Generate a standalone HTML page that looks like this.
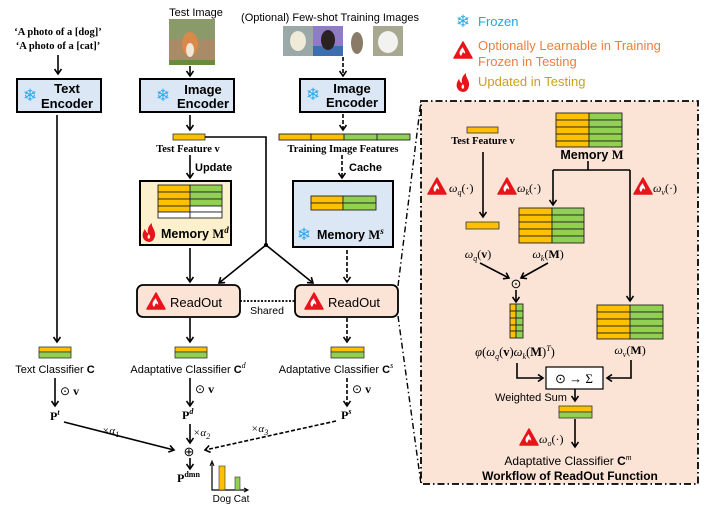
<!DOCTYPE html>
<html><head><meta charset="utf-8"><style>
html,body{margin:0;padding:0;background:#fff;}
svg{display:block;}
text{font-family:"Liberation Sans",sans-serif;fill:#000;}
.s{font-family:"Liberation Serif",serif;}
.b{font-weight:bold;}
</style></head><body>
<svg width="723" height="510" viewBox="0 0 723 510" xmlns="http://www.w3.org/2000/svg">
<defs>
<marker id="a" markerWidth="8" markerHeight="8" refX="6" refY="4" orient="auto" markerUnits="userSpaceOnUse">
<path d="M1,0.5 L6,4 L1,7.5" fill="none" stroke="#000" stroke-width="1.6"/></marker>
<g id="tri"><polygon points="0,-9 9,7 -9,7" fill="#e8141b" stroke="#e8141b" stroke-width="1.5" stroke-linejoin="round"/><path d="M-2,5 C-5,2 -3,-1 0,-4 C0,-1 3,0 2,3 C1,1 0,1 -0.5,2 Z" fill="#fff"/></g>
<g id="fl"><path d="M0,9 C-7,8 -8,1 -4,-4 C-3,-1 -2,0 -1,0 C-2,-4 0,-8 3,-10 C2,-6 7,-3 6,3 C5,7 3,9 0,9 Z M0,6 C-2,5 -2,3 0,1 C1,3 2,4 0,6 Z" fill="#e8141b" fill-rule="evenodd"/></g>
</defs>

<!-- legend -->
<text x="463" y="27" font-size="17" style="fill:#29a8f0" text-anchor="middle">❄</text>
<text x="478" y="26" font-size="13" style="fill:#1ea7e8">Frozen</text>
<use href="#tri" x="463" y="51"/>
<text x="478" y="50" font-size="13" style="fill:#ef7d3c">Optionally Learnable in Training</text>
<text x="478" y="66" font-size="13" style="fill:#ef7d3c">Frozen in Testing</text>
<use href="#fl" x="463" y="83"/>
<text x="478" y="86" font-size="13" style="fill:#c9a01c">Updated in Testing</text>

<!-- text branch -->
<text x="58" y="35" font-size="10.5" class="s b" text-anchor="middle">‘A photo of a [dog]’</text>
<text x="58" y="49" font-size="10.5" class="s b" text-anchor="middle">‘A photo of a [cat]’</text>
<line x1="58" y1="55" x2="58" y2="74" stroke="#000" stroke-width="1.6" marker-end="url(#a)"/>
<rect x="17" y="79" width="84" height="33" fill="#dbe7f4" stroke="#000" stroke-width="2"/>
<text x="30" y="101" font-size="17" style="fill:#29a8f0" text-anchor="middle">❄</text>
<text x="67" y="93" font-size="13" class="b" text-anchor="middle">Text</text>
<text x="67" y="108" font-size="13" class="b" text-anchor="middle">Encoder</text>
<line x1="57" y1="115" x2="57" y2="342" stroke="#000" stroke-width="1.6" marker-end="url(#a)"/>
<rect x="39" y="347" width="32" height="5" fill="#ffc000" stroke="#333" stroke-width="0.8"/>
<rect x="39" y="352" width="32" height="6" fill="#92d050" stroke="#333" stroke-width="0.8"/>
<text x="55" y="373" font-size="11" text-anchor="middle">Text Classifier <tspan class="b">C</tspan></text>
<line x1="55" y1="378" x2="55" y2="406" stroke="#000" stroke-width="1.6" marker-end="url(#a)"/>
<text x="60" y="395" font-size="12" class="s">⊙ <tspan class="b">v</tspan></text>
<text x="50" y="420" font-size="12" class="s b">P<tspan font-size="8" dy="-5" font-style="italic">t</tspan></text>

<!-- test image branch -->
<text x="196" y="16" font-size="11" text-anchor="middle">Test Image</text>
<rect x="169" y="19" width="46" height="46" fill="#a98b68"/>
<rect x="169" y="19" width="46" height="20" fill="#8a9a6a"/>
<ellipse cx="190" cy="44" rx="8" ry="12" fill="#d98a4a"/>
<ellipse cx="190" cy="50" rx="4" ry="7" fill="#f3e6d8"/>
<rect x="169" y="60" width="46" height="5" fill="#6c8a3c"/>
<line x1="190" y1="66" x2="190" y2="76" stroke="#000" stroke-width="1.6" marker-end="url(#a)"/>
<rect x="140" y="79" width="94" height="33" fill="#dbe7f4" stroke="#000" stroke-width="2"/>
<text x="163" y="101" font-size="17" style="fill:#29a8f0" text-anchor="middle">❄</text>
<text x="203" y="94" font-size="13" class="b" text-anchor="middle">Image</text>
<text x="203" y="108" font-size="13" class="b" text-anchor="middle">Encoder</text>
<line x1="190" y1="115" x2="190" y2="130" stroke="#000" stroke-width="1.6" marker-end="url(#a)"/>
<rect x="173" y="134" width="32" height="6" fill="#ffc000" stroke="#333" stroke-width="0.8"/>
<polyline points="205,137 266,137 266,245" fill="none" stroke="#000" stroke-width="1.6"/>
<circle cx="266" cy="245" r="2" fill="#000"/>
<line x1="266" y1="245" x2="219" y2="283" stroke="#000" stroke-width="1.6" marker-end="url(#a)"/>
<line x1="266" y1="245" x2="313" y2="283" stroke="#000" stroke-width="1.6" marker-end="url(#a)"/>
<text x="188" y="152" font-size="10.5" class="s b" text-anchor="middle">Test Feature v</text>
<line x1="190" y1="155" x2="190" y2="178" stroke="#000" stroke-width="1.6" marker-end="url(#a)"/>
<text x="195" y="171" font-size="11" class="b">Update</text>
<rect x="140" y="181" width="91" height="64" fill="#fdf0cc" stroke="#000" stroke-width="2"/>
<g stroke="#222" stroke-width="0.9">
<rect x="158" y="185" width="32" height="7" fill="#ffc000"/><rect x="190" y="185" width="32" height="7" fill="#92d050"/>
<rect x="158" y="192" width="32" height="7" fill="#ffc000"/><rect x="190" y="192" width="32" height="7" fill="#92d050"/>
<rect x="158" y="199" width="32" height="7" fill="#ffc000"/><rect x="190" y="199" width="32" height="7" fill="#92d050"/>
<rect x="158" y="206" width="32" height="6" fill="#ffc000"/><rect x="190" y="206" width="32" height="6" fill="#fff"/>
<rect x="158" y="212" width="32" height="6" fill="#fff"/><rect x="190" y="212" width="32" height="6" fill="#fff"/>
</g>
<use href="#fl" x="149" y="233"/>
<text x="161" y="238" font-size="12.5" class="b">Memory <tspan class="s">M</tspan><tspan class="s" font-style="italic" font-size="9" dy="-5">d</tspan></text>
<line x1="190" y1="248" x2="190" y2="282" stroke="#000" stroke-width="1.6" marker-end="url(#a)"/>
<rect x="137" y="285" width="103" height="32" rx="6" fill="#fbe3d6" stroke="#000" stroke-width="1.8"/>
<use href="#tri" x="156" y="302"/>
<text x="170" y="307" font-size="13">ReadOut</text>
<line x1="240" y1="301" x2="295" y2="301" stroke="#000" stroke-width="1.8" stroke-dasharray="2,1.5"/>
<text x="267" y="314" font-size="10.5" text-anchor="middle">Shared</text>
<line x1="190" y1="318" x2="190" y2="342" stroke="#000" stroke-width="1.6" marker-end="url(#a)"/>
<rect x="175" y="347" width="32" height="5" fill="#ffc000" stroke="#333" stroke-width="0.8"/>
<rect x="175" y="352" width="32" height="6" fill="#92d050" stroke="#333" stroke-width="0.8"/>
<text x="188" y="373" font-size="11" text-anchor="middle">Adaptative Classifier <tspan class="b">C</tspan><tspan class="s" font-style="italic" font-size="8" dy="-5">d</tspan></text>
<line x1="190" y1="378" x2="190" y2="406" stroke="#000" stroke-width="1.6" marker-end="url(#a)"/>
<text x="195" y="393" font-size="12" class="s">⊙ <tspan class="b">v</tspan></text>
<text x="182" y="419" font-size="12" class="s b">P<tspan font-size="8" dy="-5" font-style="italic">d</tspan></text>

<!-- training branch -->
<text x="330" y="21" font-size="11" text-anchor="middle">(Optional) Few-shot Training Images</text>
<rect x="283" y="26" width="30" height="30" fill="#9aa8a8"/><ellipse cx="298" cy="41" rx="8" ry="10" fill="#f0ead8"/>
<rect x="313" y="26" width="30" height="30" fill="#8e7cc8"/><rect x="313" y="46" width="30" height="10" fill="#3d6fb0"/><ellipse cx="328" cy="40" rx="7" ry="10" fill="#2a2220"/>
<ellipse cx="357" cy="43" rx="6" ry="11" fill="#8a7a68"/>
<rect x="373" y="26" width="30" height="30" fill="#a8a890"/><ellipse cx="388" cy="42" rx="10" ry="11" fill="#f2f2f0"/>
<line x1="343" y1="57" x2="343" y2="76" stroke="#000" stroke-width="1.6" stroke-dasharray="4,2" marker-end="url(#a)"/>
<rect x="300" y="79" width="85" height="33" fill="#dbe7f4" stroke="#000" stroke-width="2"/>
<text x="313" y="100" font-size="17" style="fill:#29a8f0" text-anchor="middle">❄</text>
<text x="352" y="93" font-size="13" class="b" text-anchor="middle">Image</text>
<text x="352" y="107" font-size="13" class="b" text-anchor="middle">Encoder</text>
<line x1="343" y1="114" x2="343" y2="130" stroke="#000" stroke-width="1.6" stroke-dasharray="4,2" marker-end="url(#a)"/>
<g stroke="#222" stroke-width="0.9">
<rect x="279" y="134" width="32" height="6" fill="#ffc000"/><rect x="311" y="134" width="33" height="6" fill="#ffc000"/>
<rect x="344" y="134" width="33" height="6" fill="#92d050"/><rect x="377" y="134" width="33" height="6" fill="#92d050"/>
</g>
<text x="343" y="152" font-size="10.5" class="s b" text-anchor="middle">Training Image Features</text>
<line x1="342" y1="155" x2="342" y2="178" stroke="#000" stroke-width="1.6" stroke-dasharray="4,2" marker-end="url(#a)"/>
<text x="349" y="171" font-size="11" class="b">Cache</text>
<rect x="293" y="181" width="100" height="66" fill="#dbe7f4" stroke="#000" stroke-width="2"/>
<g stroke="#222" stroke-width="0.9">
<rect x="311" y="196" width="32" height="7" fill="#ffc000"/><rect x="343" y="196" width="33" height="7" fill="#92d050"/>
<rect x="311" y="203" width="32" height="7" fill="#ffc000"/><rect x="343" y="203" width="33" height="7" fill="#92d050"/>
</g>
<text x="304" y="240" font-size="17" style="fill:#29a8f0" text-anchor="middle">❄</text>
<text x="317" y="239" font-size="12.5" class="b">Memory <tspan class="s">M</tspan><tspan class="s" font-style="italic" font-size="9" dy="-5">s</tspan></text>
<line x1="347" y1="250" x2="347" y2="282" stroke="#000" stroke-width="1.6" stroke-dasharray="4,2" marker-end="url(#a)"/>
<rect x="295" y="285" width="103" height="32" rx="6" fill="#fbe3d6" stroke="#000" stroke-width="1.8"/>
<use href="#tri" x="314" y="302"/>
<text x="328" y="307" font-size="13">ReadOut</text>
<line x1="347" y1="318" x2="347" y2="342" stroke="#000" stroke-width="1.6" stroke-dasharray="4,2" marker-end="url(#a)"/>
<rect x="331" y="347" width="33" height="5" fill="#ffc000" stroke="#333" stroke-width="0.8"/>
<rect x="331" y="352" width="33" height="6" fill="#92d050" stroke="#333" stroke-width="0.8"/>
<text x="336" y="373" font-size="11" text-anchor="middle">Adaptative Classifier <tspan class="b">C</tspan><tspan class="s" font-style="italic" font-size="8" dy="-5">s</tspan></text>
<line x1="347" y1="378" x2="347" y2="406" stroke="#000" stroke-width="1.6" stroke-dasharray="4,2" marker-end="url(#a)"/>
<text x="352" y="393" font-size="12" class="s">⊙ <tspan class="b">v</tspan></text>
<text x="341" y="419" font-size="12" class="s b">P<tspan font-size="8" dy="-5" font-style="italic">s</tspan></text>

<!-- fusion -->
<line x1="64" y1="422" x2="174" y2="450" stroke="#000" stroke-width="1.6" marker-end="url(#a)"/>
<line x1="190" y1="424" x2="190" y2="443" stroke="#000" stroke-width="1.6" marker-end="url(#a)"/>
<line x1="336" y1="421" x2="205" y2="450" stroke="#000" stroke-width="1.6" stroke-dasharray="4,2" marker-end="url(#a)"/>
<text x="102" y="434" font-size="11" class="s" font-style="italic">×α<tspan font-size="8" dy="3">1</tspan></text>
<text x="193" y="436" font-size="11" class="s" font-style="italic">×α<tspan font-size="8" dy="3">2</tspan></text>
<text x="251" y="432" font-size="11" class="s" font-style="italic">×α<tspan font-size="8" dy="3">3</tspan></text>
<text x="189" y="456" font-size="13" class="s" text-anchor="middle">⊕</text>
<line x1="190" y1="458" x2="190" y2="469" stroke="#000" stroke-width="1.6" marker-end="url(#a)"/>
<text x="177" y="482" font-size="12" class="s b">P<tspan font-size="8" dy="-5">dmn</tspan></text>
<polyline points="212,463 212,490 247,490" fill="none" stroke="#000" stroke-width="1.2"/>
<path d="M210,466 L212,461 L214,466 M244,488 L248,490 L244,492" fill="none" stroke="#000" stroke-width="1"/>
<rect x="219" y="466" width="6" height="24" fill="#ffc000" stroke="#333" stroke-width="0.6"/>
<rect x="235" y="477" width="5" height="13" fill="#92d050" stroke="#333" stroke-width="0.6"/>
<text x="231" y="502" font-size="10" text-anchor="middle">Dog Cat</text>

<!-- connector lines to panel -->
<line x1="398" y1="286" x2="421" y2="101" stroke="#000" stroke-width="1.4" stroke-dasharray="6,3,1.5,3"/>
<line x1="398" y1="316" x2="421" y2="484" stroke="#000" stroke-width="1.4" stroke-dasharray="6,3,1.5,3"/>

<!-- readout panel -->
<rect x="421" y="101" width="277" height="383" fill="#fbe3d6" stroke="#000" stroke-width="1.8" stroke-dasharray="7,3,1.5,3"/>
<rect x="467" y="127" width="31" height="6" fill="#ffc000" stroke="#333" stroke-width="0.8"/>
<text x="483" y="144" font-size="10.5" class="s b" text-anchor="middle">Test Feature v</text>
<line x1="483" y1="152" x2="483" y2="217" stroke="#000" stroke-width="1.6" marker-end="url(#a)"/>
<rect x="466" y="222" width="33" height="7" fill="#ffc000" stroke="#333" stroke-width="0.8"/>
<g stroke="#222" stroke-width="0.9">
<rect x="556" y="113" width="33" height="7" fill="#ffc000"/><rect x="589" y="113" width="33" height="7" fill="#92d050"/>
<rect x="556" y="120" width="33" height="7" fill="#ffc000"/><rect x="589" y="120" width="33" height="7" fill="#92d050"/>
<rect x="556" y="127" width="33" height="7" fill="#ffc000"/><rect x="589" y="127" width="33" height="7" fill="#92d050"/>
<rect x="556" y="134" width="33" height="7" fill="#ffc000"/><rect x="589" y="134" width="33" height="7" fill="#92d050"/>
<rect x="556" y="141" width="33" height="6" fill="#ffc000"/><rect x="589" y="141" width="33" height="6" fill="#92d050"/>
</g>
<text x="592" y="159" font-size="12.5" class="b" text-anchor="middle">Memory <tspan class="s">M</tspan></text>
<polyline points="588,161 588,170" fill="none" stroke="#000" stroke-width="1.6"/>
<polyline points="553,170 630,170" fill="none" stroke="#000" stroke-width="1.6"/>
<line x1="553" y1="170" x2="553" y2="205" stroke="#000" stroke-width="1.6" marker-end="url(#a)"/>
<line x1="630" y1="170" x2="630" y2="301" stroke="#000" stroke-width="1.6" marker-end="url(#a)"/>
<use href="#tri" x="437" y="187"/>
<text x="449" y="192" font-size="12" class="s" font-style="italic">ω<tspan font-size="8" dy="3">q</tspan><tspan dy="-3" font-style="normal">(·)</tspan></text>
<use href="#tri" x="507" y="187"/>
<text x="517" y="192" font-size="12" class="s" font-style="italic">ω<tspan font-size="8" dy="3">k</tspan><tspan dy="-3" font-style="normal">(·)</tspan></text>
<use href="#tri" x="643" y="187"/>
<text x="653" y="192" font-size="12" class="s" font-style="italic">ω<tspan font-size="8" dy="3">v</tspan><tspan dy="-3" font-style="normal">(·)</tspan></text>
<g stroke="#222" stroke-width="0.9">
<rect x="519" y="208" width="33" height="7" fill="#ffc000"/><rect x="552" y="208" width="32" height="7" fill="#92d050"/>
<rect x="519" y="215" width="33" height="7" fill="#ffc000"/><rect x="552" y="215" width="32" height="7" fill="#92d050"/>
<rect x="519" y="222" width="33" height="7" fill="#ffc000"/><rect x="552" y="222" width="32" height="7" fill="#92d050"/>
<rect x="519" y="229" width="33" height="7" fill="#ffc000"/><rect x="552" y="229" width="32" height="7" fill="#92d050"/>
<rect x="519" y="236" width="33" height="7" fill="#ffc000"/><rect x="552" y="236" width="32" height="7" fill="#92d050"/>
</g>
<text x="478" y="258" font-size="12" class="s" text-anchor="middle"><tspan font-style="italic">ω</tspan><tspan font-size="8" font-style="italic" dy="3">q</tspan><tspan dy="-3">(</tspan><tspan class="b">v</tspan>)</text>
<text x="548" y="258" font-size="12" class="s" text-anchor="middle"><tspan font-style="italic">ω</tspan><tspan font-size="8" font-style="italic" dy="3">k</tspan><tspan dy="-3">(</tspan><tspan class="b">M</tspan>)</text>
<line x1="480" y1="263" x2="509" y2="278" stroke="#000" stroke-width="1.6" marker-end="url(#a)"/>
<line x1="548" y1="263" x2="521" y2="278" stroke="#000" stroke-width="1.6" marker-end="url(#a)"/>
<text x="516" y="288" font-size="13" class="s" text-anchor="middle">⊙</text>
<line x1="516" y1="290" x2="516" y2="302" stroke="#000" stroke-width="1.6" marker-end="url(#a)"/>
<g stroke="#222" stroke-width="0.9">
<rect x="510" y="304" width="6" height="7" fill="#ffc000"/><rect x="516" y="304" width="7" height="7" fill="#92d050"/>
<rect x="510" y="311" width="6" height="7" fill="#ffc000"/><rect x="516" y="311" width="7" height="7" fill="#92d050"/>
<rect x="510" y="318" width="6" height="7" fill="#ffc000"/><rect x="516" y="318" width="7" height="7" fill="#92d050"/>
<rect x="510" y="325" width="6" height="6" fill="#ffc000"/><rect x="516" y="325" width="7" height="6" fill="#92d050"/>
<rect x="510" y="331" width="6" height="7" fill="#ffc000"/><rect x="516" y="331" width="7" height="7" fill="#92d050"/>
</g>
<g stroke="#222" stroke-width="0.9">
<rect x="597" y="305" width="33" height="7" fill="#ffc000"/><rect x="630" y="305" width="33" height="7" fill="#92d050"/>
<rect x="597" y="312" width="33" height="7" fill="#ffc000"/><rect x="630" y="312" width="33" height="7" fill="#92d050"/>
<rect x="597" y="319" width="33" height="7" fill="#ffc000"/><rect x="630" y="319" width="33" height="7" fill="#92d050"/>
<rect x="597" y="326" width="33" height="7" fill="#ffc000"/><rect x="630" y="326" width="33" height="7" fill="#92d050"/>
<rect x="597" y="333" width="33" height="6" fill="#ffc000"/><rect x="630" y="333" width="33" height="6" fill="#92d050"/>
</g>
<text x="515" y="356" font-size="12.5" class="s" text-anchor="middle"><tspan font-style="italic">φ</tspan>(<tspan font-style="italic">ω</tspan><tspan font-size="8" font-style="italic" dy="3">q</tspan><tspan dy="-3">(</tspan><tspan class="b">v</tspan>)<tspan font-style="italic">ω</tspan><tspan font-size="8" font-style="italic" dy="3">k</tspan><tspan dy="-3">(</tspan><tspan class="b">M</tspan>)<tspan font-size="8" font-style="italic" dy="-5">T</tspan><tspan dy="5">)</tspan></text>
<text x="630" y="354" font-size="12" class="s" text-anchor="middle"><tspan font-style="italic">ω</tspan><tspan font-size="8" font-style="italic" dy="3">v</tspan><tspan dy="-3">(</tspan><tspan class="b">M</tspan>)</text>
<rect x="546" y="367" width="57" height="22" fill="#fff" stroke="#000" stroke-width="1.2"/>
<text x="574" y="383" font-size="13" class="s" text-anchor="middle">⊙ → Σ</text>
<polyline points="517,363 517,378 543,378" fill="none" stroke="#000" stroke-width="1.6" marker-end="url(#a)"/>
<polyline points="631,360 631,378 607,378" fill="none" stroke="#000" stroke-width="1.6" marker-end="url(#a)"/>
<text x="531" y="401" font-size="11" text-anchor="middle">Weighted Sum</text>
<line x1="575" y1="389" x2="575" y2="401" stroke="#000" stroke-width="1.6" marker-end="url(#a)"/>
<rect x="559" y="406" width="33" height="6" fill="#ffc000" stroke="#333" stroke-width="0.8"/>
<rect x="559" y="412" width="33" height="6" fill="#92d050" stroke="#333" stroke-width="0.8"/>
<line x1="575" y1="419" x2="575" y2="447" stroke="#000" stroke-width="1.6" marker-end="url(#a)"/>
<use href="#tri" x="529" y="438"/>
<text x="539" y="443" font-size="12" class="s" font-style="italic">ω<tspan font-size="8" dy="3">o</tspan><tspan dy="-3" font-style="normal">(·)</tspan></text>
<text x="568" y="465" font-size="12" text-anchor="middle">Adaptative Classifier <tspan class="b">C</tspan><tspan class="s" font-style="italic" font-size="8" dy="-5">m</tspan></text>
<text x="570" y="480" font-size="12" class="b" text-anchor="middle">Workflow of ReadOut Function</text>
</svg>
</body></html>
